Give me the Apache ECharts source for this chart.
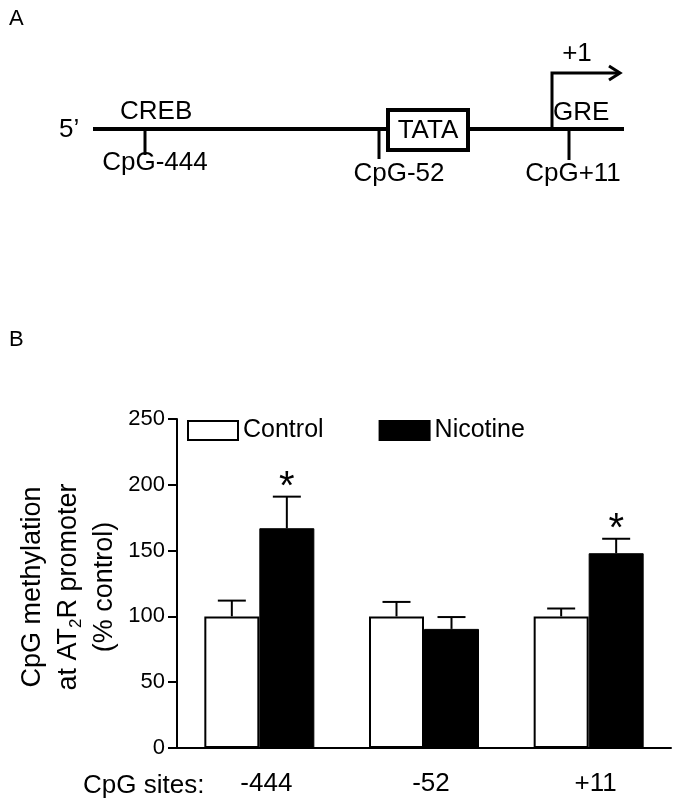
<!DOCTYPE html>
<html><head><meta charset="utf-8">
<script src="https://cdn.jsdelivr.net/npm/echarts@6/dist/echarts.min.js"></script>
<style>html,body{margin:0;padding:0;background:#fff}#c{width:679px;height:808px}</style>
</head><body><div id="c"></div>
<script>
// ---- data ----
const categories = ['-444', '-52', '+11'];
const seriesNames = ['Control', 'Nicotine'];
const controlMean = [100, 100, 100];
const controlSem = [12, 11, 6];
const nicotineMean = [167, 90.5, 148];
const nicotineSem = [24, 9, 11];
const nicotineSig = ['*', '', '*'];
const yTicks = [0, 50, 100, 150, 200, 250];
const siteLabels = ['CpG-444', 'CpG-52', 'CpG+11'];
const elementLabels = ['CREB', 'TATA', 'GRE'];

// ---- style ----
const FONT = '"Liberation Sans", Arial, sans-serif';
const BAR_W = 55;
const CAP = 28;

function errSeries(name, means, sems, sigs, side) {
  return {
    type: 'custom', name: name + ' err', z: 5, silent: true,
    encode: { x: 0, y: 1 },
    data: means.map((m, i) => [i, m, sems[i]]),
    renderItem(params, api) {
      const i = api.value(0), m = api.value(1), e = api.value(2);
      const base = api.coord([i, m]);
      const top = api.coord([i, m + e]);
      const x = base[0] + side * BAR_W / 2;
      const children = [
        { type: 'line', shape: { x1: x, y1: base[1], x2: x, y2: top[1] }, style: { stroke: '#000', lineWidth: 2 } },
        { type: 'line', shape: { x1: x - CAP / 2, y1: top[1], x2: x + CAP / 2, y2: top[1] }, style: { stroke: '#000', lineWidth: 2 } }
      ];
      const s = sigs ? sigs[params.dataIndex] : '';
      if (s) children.push({ type: 'text', style: { text: s, x: x, y: top[1] + 11, align: 'center', verticalAlign: 'bottom', font: '40px ' + FONT, fill: '#000' } });
      return { type: 'group', children };
    }
  };
}

function txt(text, x, y, size, align, extra) {
  return Object.assign({ type: 'text', x: x, y: y, style: { text: text, font: size + 'px ' + FONT, fill: '#000', align: align || 'left', verticalAlign: 'middle' } }, extra || {});
}
function seg(x1, y1, x2, y2, w) {
  return { type: 'line', shape: { x1, y1, x2, y2 }, style: { stroke: '#000', lineWidth: w } };
}

const graphic = [
  txt('A', 9, 19, 22),
  txt('5\u2019', 59, 130, 26),
  seg(93, 129, 624, 129, 4),
  txt(elementLabels[0], 120, 112, 26),
  seg(145, 129, 145, 155, 3),
  txt(siteLabels[0], 155, 163, 26, 'center'),
  seg(379, 129, 379, 159, 3),
  txt(siteLabels[1], 399, 174, 26, 'center'),
  { type: 'rect', shape: { x: 388, y: 110, width: 80, height: 40 }, style: { fill: '#fff', stroke: '#000', lineWidth: 4 } },
  txt(elementLabels[1], 428, 131, 26, 'center'),
  { type: 'polyline', shape: { points: [[552, 129], [552, 73], [619, 73]] }, style: { fill: null, stroke: '#000', lineWidth: 3 } },
  { type: 'polyline', shape: { points: [[609, 66], [620, 73], [609, 80]] }, style: { fill: null, stroke: '#000', lineWidth: 3 } },
  txt('+1', 577, 54, 26, 'center'),
  txt(elementLabels[2], 553, 113, 26),
  seg(569, 129, 569, 160, 3),
  txt(siteLabels[2], 573, 174, 26, 'center'),
  txt('B', 9, 340, 22),
  txt('CpG sites:', 83, 786, 26),
  {
    type: 'text', x: 69, y: 587, rotation: Math.PI / 2,
    style: {
      text: 'CpG methylation\nat AT{sub|2}R promoter\n(% control)',
      font: '27px ' + FONT, fill: '#000', align: 'center', verticalAlign: 'middle', lineHeight: 36,
      rich: { sub: { fontSize: 17, fontFamily: FONT, fill: '#000', padding: [14, 0, 0, 0], lineHeight: 36 } }
    }
  }
];

const chart = echarts.init(document.getElementById('c'), null, { renderer: 'canvas' });
chart.setOption({
  backgroundColor: '#fff',
  animation: false,
  textStyle: { fontFamily: FONT, color: '#000' },
  grid: { left: 177, right: 8, top: 419, bottom: 60, containLabel: false, outerBoundsMode: 'none' },
  legend: {
    data: seriesNames, left: 187, top: 418, padding: 0, icon: 'rect', itemWidth: 50, itemHeight: 19, itemGap: 55,
    textStyle: { fontSize: 25, color: '#000', fontFamily: FONT }, selectedMode: false
  },
  xAxis: {
    type: 'category', data: categories,
    axisLine: { lineStyle: { color: '#000', width: 2 } },
    axisTick: { show: false },
    axisLabel: { fontSize: 26, color: '#000', margin: 23, fontFamily: FONT, padding: [0, 0, 0, 14] }
  },
  yAxis: {
    type: 'value', min: yTicks[0], max: yTicks[yTicks.length - 1], interval: yTicks[1] - yTicks[0],
    axisLine: { show: true, lineStyle: { color: '#000', width: 2 } },
    axisTick: { show: true, length: 9, lineStyle: { color: '#000', width: 2 } },
    splitLine: { show: false },
    axisLabel: { fontSize: 22, color: '#000', margin: 12, fontFamily: FONT }
  },
  series: [
    { type: 'bar', name: seriesNames[0], data: controlMean, barWidth: BAR_W, barGap: '0%',
      itemStyle: { color: '#fff', borderColor: '#000', borderWidth: 2 } },
    { type: 'bar', name: seriesNames[1], data: nicotineMean, barWidth: BAR_W, barGap: '0%',
      itemStyle: { color: '#000', borderColor: '#000', borderWidth: 1 } },
    errSeries(seriesNames[0], controlMean, controlSem, null, -1),
    errSeries(seriesNames[1], nicotineMean, nicotineSem, nicotineSig, 1)
  ],
  graphic: graphic
});
</script>
</body></html>
